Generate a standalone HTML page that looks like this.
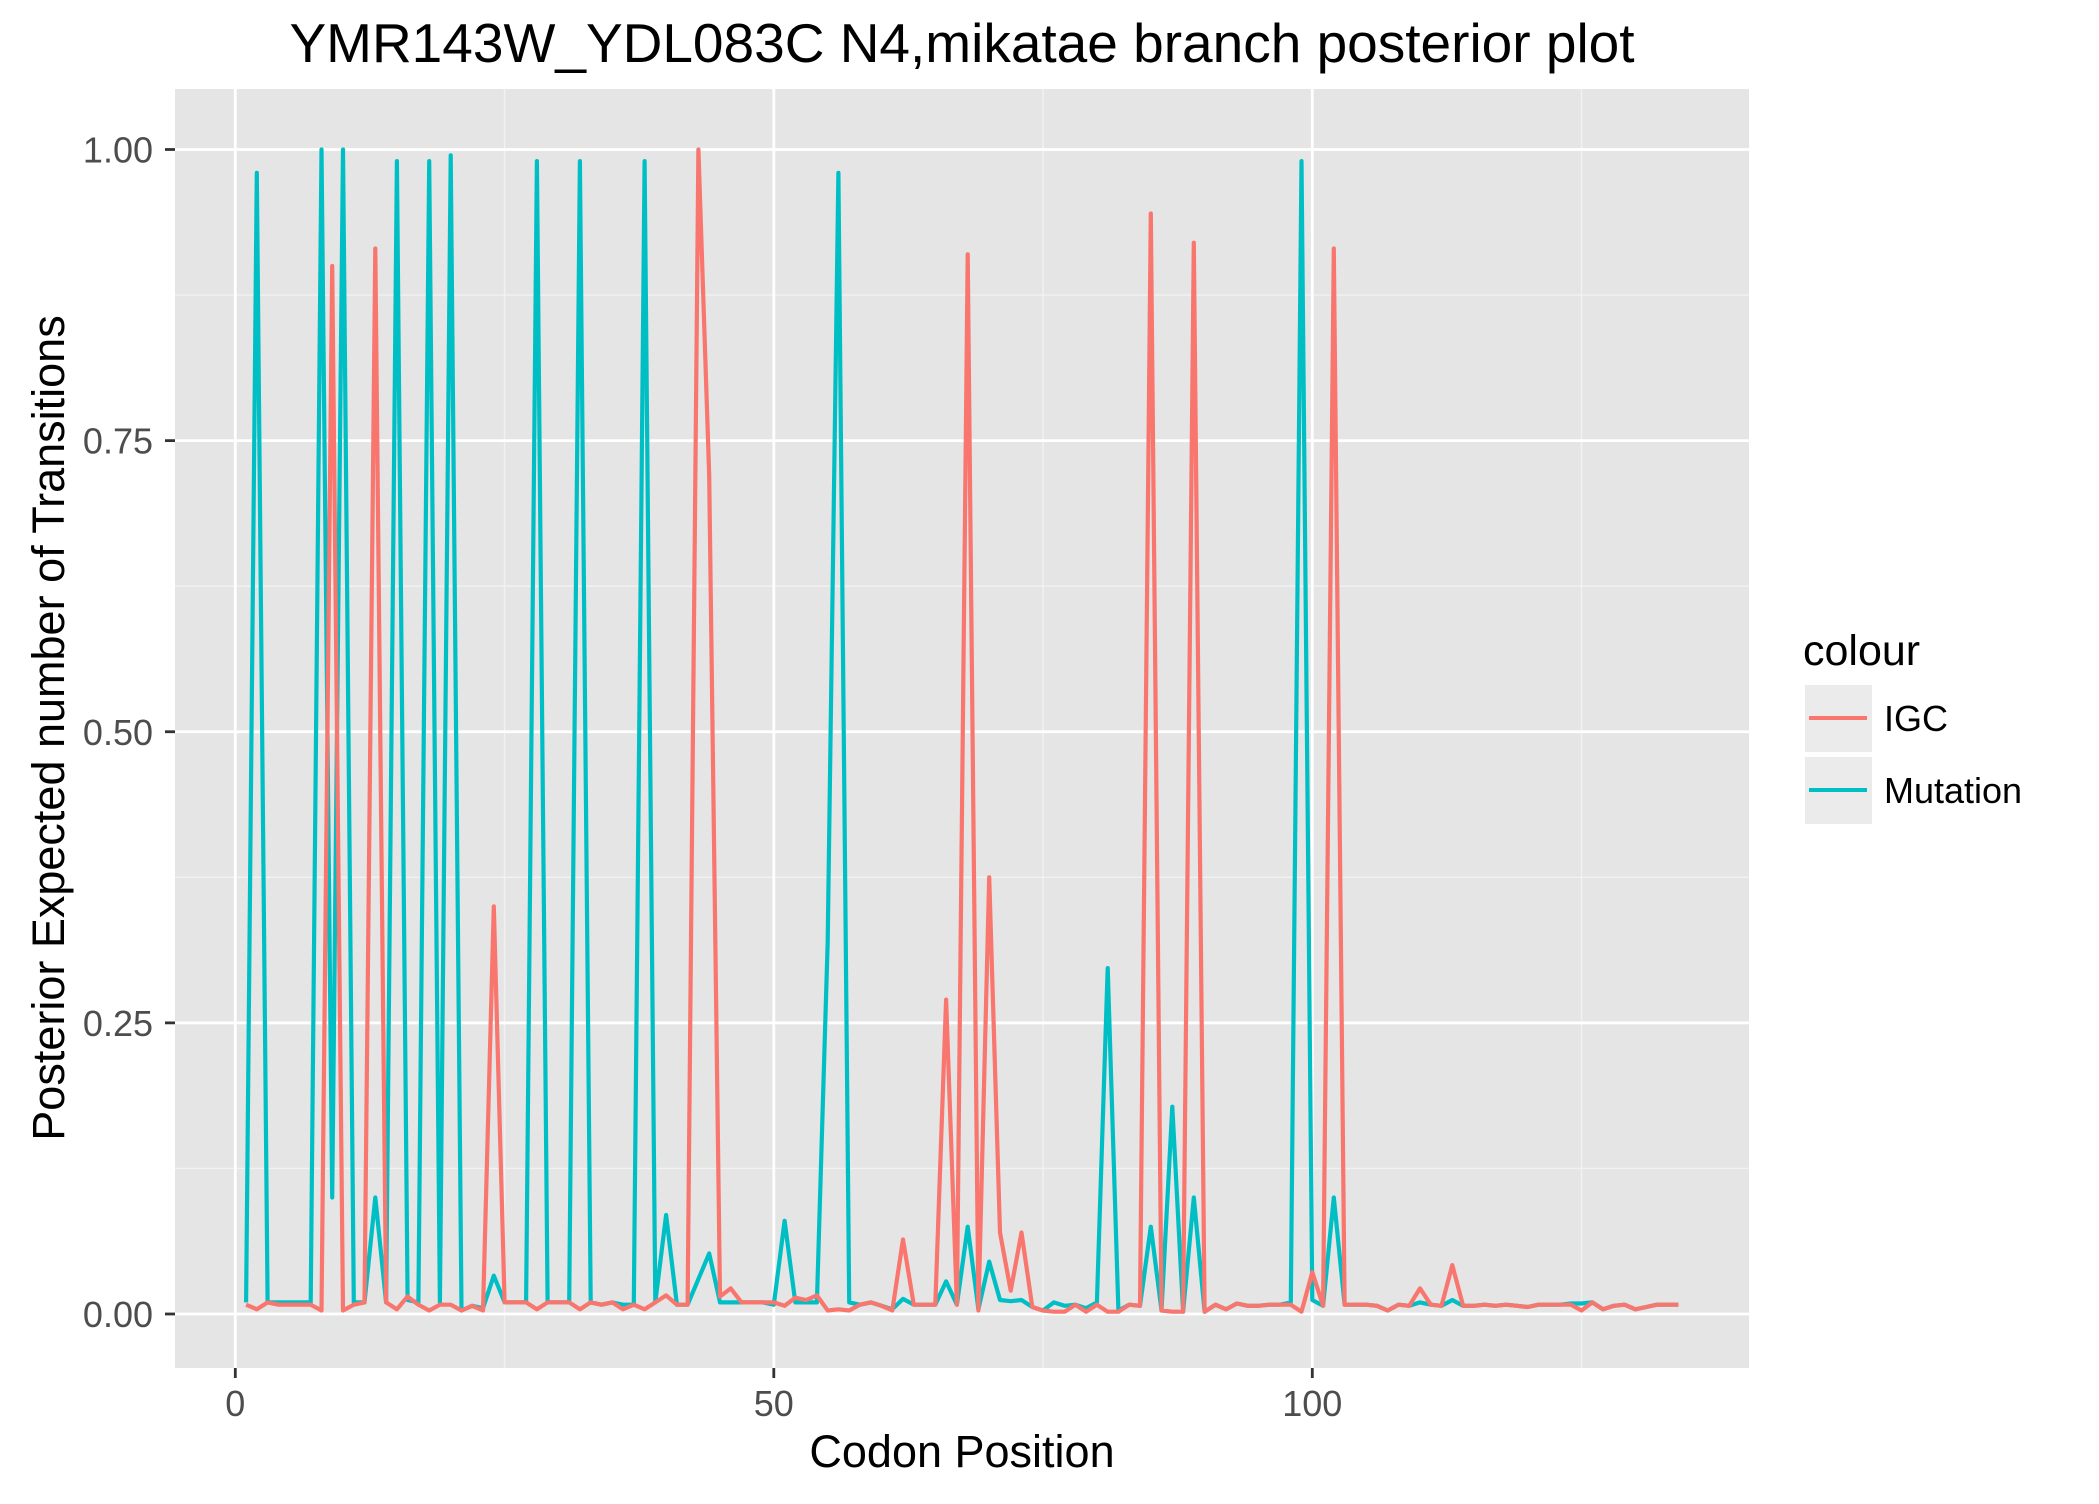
<!DOCTYPE html>
<html><head><meta charset="utf-8"><style>
body{margin:0;background:#fff;}
svg text{font-family:"Liberation Sans",Arial,sans-serif;}
</style></head><body>
<svg id="chart" width="2099" height="1499" xmlns="http://www.w3.org/2000/svg">
<rect width="2099" height="1499" fill="#fff"/>
<text x="962" y="62" font-size="55" text-anchor="middle" fill="#000">YMR143W_YDL083C N4,mikatae branch posterior plot</text>
<rect x="175" y="89" width="1574" height="1279" fill="#e5e5e5"/>
<g id="grid"></g>
<g id="axes"></g>
<g id="lines"></g>
<text x="962" y="1467" font-size="45" text-anchor="middle" fill="#000">Codon Position</text>
<text transform="translate(64,728) rotate(-90)" font-size="45" text-anchor="middle" fill="#000">Posterior Expected number of Transitions</text>
<g>
<text x="1803" y="665" font-size="43" fill="#000">colour</text>
<rect x="1805" y="685" width="67" height="67" fill="#ebebeb"/>
<line x1="1809" y1="718" x2="1867" y2="718" stroke="#F8766D" stroke-width="4"/>
<text x="1884" y="731" font-size="36" fill="#000">IGC</text>
<rect x="1805" y="757" width="67" height="67" fill="#ebebeb"/>
<line x1="1809" y1="790" x2="1867" y2="790" stroke="#00BFC4" stroke-width="4"/>
<text x="1884" y="803" font-size="36" fill="#000">Mutation</text>
</g>
</svg>
<script>
const xTicks=[0,50,100];
const xMinor=[25,75,125];
const yTicks=[0,0.25,0.5,0.75,1.0];
const yTickLabels=["0.00","0.25","0.50","0.75","1.00"];
const yMinor=[0.125,0.375,0.625,0.875];
const igc=[0.008,0.004,0.01,0.008,0.008,0.008,0.008,0.003,0.9,0.003,0.008,0.01,0.915,0.01,0.004,0.015,0.008,0.003,0.008,0.008,0.003,0.007,0.003,0.35,0.01,0.01,0.01,0.004,0.01,0.01,0.01,0.004,0.01,0.008,0.01,0.004,0.008,0.004,0.01,0.016,0.008,0.008,1.0,0.72,0.015,0.022,0.01,0.01,0.01,0.01,0.007,0.014,0.012,0.016,0.003,0.004,0.003,0.008,0.01,0.007,0.003,0.064,0.008,0.008,0.008,0.27,0.008,0.91,0.003,0.375,0.07,0.02,0.07,0.006,0.003,0.002,0.002,0.008,0.002,0.008,0.002,0.002,0.008,0.007,0.945,0.003,0.002,0.002,0.92,0.002,0.008,0.004,0.009,0.007,0.007,0.008,0.008,0.008,0.002,0.036,0.007,0.915,0.008,0.008,0.008,0.007,0.003,0.008,0.007,0.022,0.008,0.007,0.042,0.007,0.007,0.008,0.007,0.008,0.007,0.006,0.008,0.008,0.008,0.008,0.003,0.01,0.004,0.007,0.008,0.004,0.006,0.008,0.008,0.008];
const mutation=[0.01,0.98,0.01,0.01,0.01,0.01,0.01,1.0,0.1,1.0,0.01,0.01,0.1,0.01,0.99,0.012,0.01,0.99,0.01,0.995,0.003,0.007,0.005,0.033,0.01,0.01,0.01,0.99,0.01,0.01,0.01,0.99,0.01,0.008,0.01,0.008,0.008,0.99,0.01,0.085,0.008,0.008,0.03,0.052,0.01,0.01,0.01,0.01,0.01,0.008,0.08,0.01,0.01,0.01,0.32,0.98,0.01,0.008,0.01,0.007,0.004,0.013,0.008,0.008,0.008,0.028,0.008,0.075,0.004,0.045,0.012,0.011,0.012,0.006,0.003,0.01,0.007,0.008,0.005,0.01,0.297,0.003,0.008,0.007,0.075,0.003,0.178,0.002,0.1,0.002,0.008,0.004,0.009,0.007,0.007,0.008,0.008,0.01,0.99,0.012,0.007,0.1,0.008,0.008,0.008,0.007,0.003,0.008,0.007,0.01,0.008,0.007,0.012,0.007,0.007,0.008,0.007,0.008,0.007,0.006,0.008,0.008,0.008,0.009,0.009,0.01,0.004,0.007,0.008,0.004,0.006,0.008,0.008,0.008];
const NS='http://www.w3.org/2000/svg';
const X0=175,X1=1749,Y0=89,Y1=1368;
function xs(v){return 235.3+v*10.77;}
function ys(v){return 1314-v*1164.5;}
function mk(tag,attrs,parent){const e=document.createElementNS(NS,tag);for(const k in attrs)e.setAttribute(k,attrs[k]);parent.appendChild(e);return e;}
const grid=document.getElementById('grid'),axes=document.getElementById('axes'),lines=document.getElementById('lines');
yMinor.forEach(v=>{const e=mk('line',{x1:X0,x2:X1,y1:ys(v),y2:ys(v),stroke:'#f2f2f2','stroke-width':1.4},grid);

});
xMinor.forEach(v=>{const e=mk('line',{x1:xs(v),x2:xs(v),y1:Y0,y2:Y1,stroke:'#f2f2f2','stroke-width':1.4},grid);

});
yTicks.forEach((v,i)=>{const e=mk('line',{x1:X0,x2:X1,y1:ys(v),y2:ys(v),stroke:'#fff','stroke-width':2.8},grid);


const t=mk('line',{x1:X0-10,x2:X0,y1:ys(v),y2:ys(v),stroke:'#333','stroke-width':2.8},axes);


const l=mk('text',{x:X0-22,y:ys(v)+13,'font-size':36,'text-anchor':'end',fill:'#4d4d4d'},axes);l.textContent=yTickLabels[i];

});
xTicks.forEach(v=>{const e=mk('line',{x1:xs(v),x2:xs(v),y1:Y0,y2:Y1,stroke:'#fff','stroke-width':2.8},grid);


const t=mk('line',{x1:xs(v),x2:xs(v),y1:Y1,y2:Y1+10,stroke:'#333','stroke-width':2.8},axes);


const l=mk('text',{x:xs(v),y:Y1+48,'font-size':36,'text-anchor':'middle',fill:'#4d4d4d'},axes);l.textContent=String(v);

});
function path(arr,color,name){const d=arr.map((v,i)=>(i?'L':'M')+xs(i+1).toFixed(1)+','+ys(v).toFixed(1)).join(' ');
const p=mk('path',{d:d,fill:'none',stroke:color,'stroke-width':4.2,'stroke-linejoin':'round'},lines);

}
path(mutation,'#00BFC4','mutation-line');
path(igc,'#F8766D','igc-line');
</script>
</body></html>
